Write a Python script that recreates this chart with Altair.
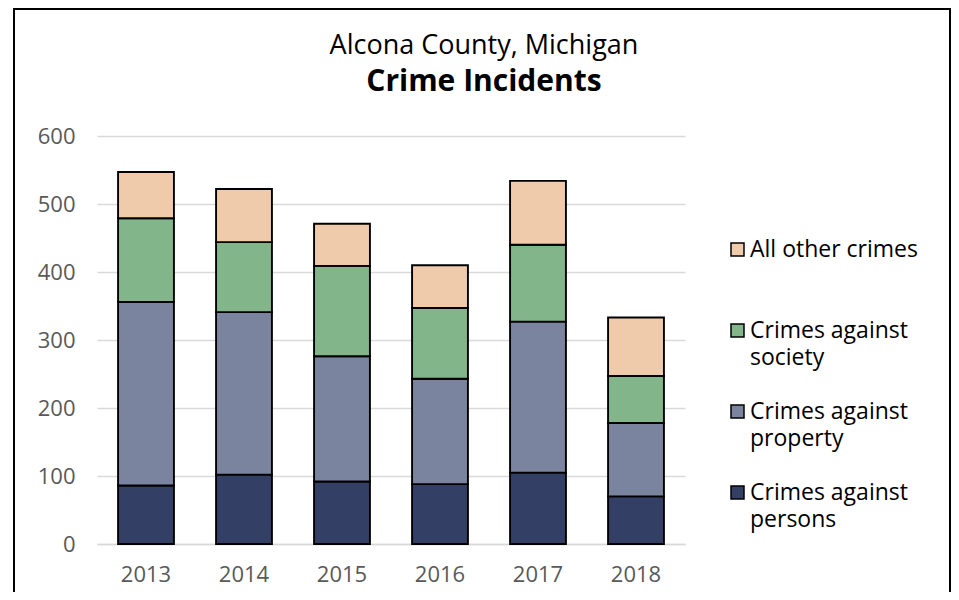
import altair as alt
import pandas as pd

years = ["2013", "2014", "2015", "2016", "2017", "2018"]
categories = [
    "Crimes against persons",
    "Crimes against property",
    "Crimes against society",
    "All other crimes",
]
persons = [86, 102, 92, 88, 105, 70]
property_ = [270, 239, 184, 155, 222, 108]
society = [123, 103, 133, 104, 113, 69]
other = [68, 78, 62, 63, 94, 86]
y_ticks = [0, 100, 200, 300, 400, 500, 600]
title_line1 = "Alcona County, Michigan"
title_line2 = "Crime Incidents"

colors = ["#343F66", "#7A849E", "#82B58A", "#EFCAAB"]

series = [persons, property_, society, other]
rows = []
for ci, (cat, vals) in enumerate(zip(categories, series)):
    for yr, v in zip(years, vals):
        rows.append({"Year": yr, "Category": cat, "Count": v, "Order": ci})
df = pd.DataFrame(rows)

FONT = "Open Sans"

label_expr = (
    "datum.label == 'All other crimes' ? [datum.label, ''] : "
    "['Crimes against', substring(datum.label, 15)]"
)

bars = alt.Chart(df).mark_bar(stroke="black", strokeWidth=1.9).encode(
    x=alt.X(
        "Year:N",
        sort=years,
        title=None,
        scale=alt.Scale(paddingInner=0.43, paddingOuter=0.215),
        axis=alt.Axis(
            labelAngle=0,
            labelFont=FONT,
            labelFontSize=22,
            labelColor="#595959",
            labelPadding=20,
            domainColor="#D9D9D9",
            domainWidth=1.5,
            ticks=False,
            grid=False,
        ),
    ),
    y=alt.Y(
        "Count:Q",
        stack="zero",
        title=None,
        scale=alt.Scale(domain=[0, 600], nice=False),
        axis=alt.Axis(
            values=y_ticks,
            labelFont=FONT,
            labelFontSize=22,
            labelColor="#595959",
            labelPadding=22,
            domain=False,
            ticks=False,
            gridColor="#D9D9D9",
            gridWidth=1.5,
        ),
    ),
    color=alt.Color(
        "Category:N",
        scale=alt.Scale(domain=categories[::-1], range=colors[::-1]),
        legend=alt.Legend(
            title=None,
            orient="none",
            legendX=629,
            legendY=102,
            padding=0,
            symbolType="square",
            symbolSize=169,
            symbolStrokeColor="black",
            symbolStrokeWidth=1.5,
            labelFont=FONT,
            labelFontSize=23,
            labelColor="black",
            labelLimit=300,
            labelOffset=1,
            labelExpr=label_expr,
            rowPadding=30,
        ),
    ),
    order=alt.Order("Order:Q", sort="ascending"),
)

border = alt.Chart(alt.Data(values=[{"a": 1}])).mark_rect(
    filled=False, stroke="black", strokeWidth=2
).encode(
    x=alt.value(-83),
    x2=alt.value(853),
    y=alt.value(-127),
    y2=alt.value(700),
)

t1 = alt.Chart(alt.Data(values=[{"t": title_line1}])).mark_text(
    font=FONT, fontSize=27, fontWeight="normal", color="black", baseline="middle", align="center"
).encode(text="t:N", x=alt.value(387), y=alt.value(-90))

t2 = alt.Chart(alt.Data(values=[{"t": title_line2}])).mark_text(
    font=FONT, fontSize=30, fontWeight="bold", color="black", baseline="middle", align="center"
).encode(text="t:N", x=alt.value(387), y=alt.value(-54))

chart = alt.layer(bars, border, t1, t2).properties(
    width=588,
    height=408,
    padding={"left": 89, "top": 128, "right": 266, "bottom": 48},
    autosize=alt.AutoSizeParams(type="none"),
).configure(
    font=FONT,
    style={"guide-label": {"lineHeight": 27}},
    view={"stroke": None},
)

chart.save("out.html", embed_options={"renderer": "svg", "actions": False})
